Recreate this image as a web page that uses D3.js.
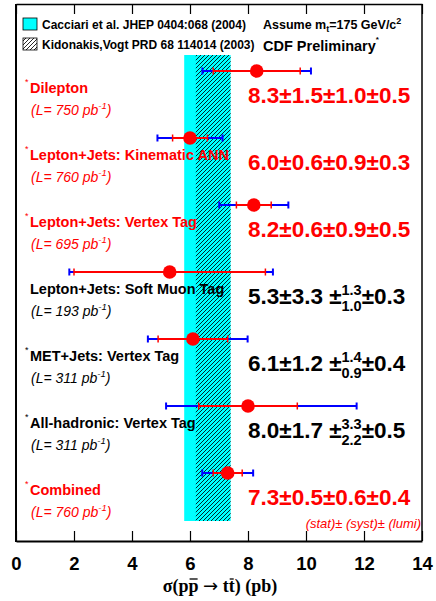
<!DOCTYPE html>
<html>
<head>
<meta charset="utf-8">
<script src="https://cdn.jsdelivr.net/npm/d3@7"></script>
<style>
	body { margin: 0; background: #fff; }
	svg { display: block; }
	text { font-family: "Liberation Sans", Arial, sans-serif; }
</style>
</head>
<body>
<div id="graphZone"></div>
<script>
/************************************ Data *******************************/
var channels = ["Dilepton", "Lepton+Jets: Kinematic ANN", "Lepton+Jets: Vertex Tag",
	"Lepton+Jets: Soft Muon Tag", "MET+Jets: Vertex Tag", "All-hadronic: Vertex Tag", "Combined"];
var lumis = [750, 760, 695, 193, 311, 311, 760];
var xsec = [8.3, 6.0, 8.2, 5.3, 6.1, 8.0, 7.3];
var stat = [1.5, 0.6, 0.6, 3.3, 1.2, 1.7, 0.5];
var systUp = [1.0, 0.9, 0.9, 1.3, 1.4, 3.3, 0.6];
var systDn = [1.0, 0.9, 0.9, 1.0, 0.9, 2.2, 0.6];
var lumiErr = [0.5, 0.3, 0.5, 0.3, 0.4, 0.5, 0.4];
var starred = [true, true, true, false, true, true, true];
var redRow = [true, true, true, false, false, false, true];

var theoryNames = ["Cacciari et al. JHEP 0404:068 (2004)", "Kidonakis,Vogt PRD 68 114014 (2003)"];
var theoryLow = [5.8, 6.2];
var theoryHigh = [7.4, 7.4];

var majorTicks = [0, 2, 4, 6, 8, 10, 12, 14];
var minorTicks = d3.range(0, 14.01, 0.5);

/************************************ Setup *******************************/
var W = 436, H = 601;
var RED = "#ff0000", BLUE = "#0000ff";

var svg = d3.select("#graphZone").append("svg")
	.attr("width", W).attr("height", H);
svg.append("rect").attr("width", W).attr("height", H).attr("fill", "#fff");

var defs = svg.append("defs");
var pat = defs.append("pattern").attr("id", "hatch")
	.attr("patternUnits", "userSpaceOnUse").attr("width", 4).attr("height", 4);
pat.append("path").attr("d", "M-1,1 l2,-2 M0,4 l4,-4 M3,5 l2,-2")
	.attr("stroke", "#000").attr("stroke-width", 0.85);

var x = d3.scaleLinear().domain([0, 14]).range([16, 422]);
var y = d3.scalePoint().domain(channels).range([71, 473]);

var frameTop = 4, frameBottom = 541;

/************************************ Theory bands *******************************/
svg.append("rect")
	.attr("x", x(theoryLow[0])).attr("width", x(theoryHigh[0]) - x(theoryLow[0]))
	.attr("y", 55).attr("height", 466).attr("fill", "#00ffff");
svg.append("rect")
	.attr("x", x(theoryLow[1])).attr("width", x(theoryHigh[1]) - x(theoryLow[1]))
	.attr("y", 55).attr("height", 466).attr("fill", "url(#hatch)");

/************************************ Axes *******************************/
var gb = svg.append("g").attr("transform", "translate(0," + frameBottom + ")");
gb.call(d3.axisBottom(x).tickValues(minorTicks).tickSizeInner(-5).tickSizeOuter(0).tickFormat(""));
gb.call(d3.axisBottom(x).tickValues(majorTicks).tickSizeInner(-10).tickSizeOuter(0)
	.tickFormat(d3.format("d")).tickPadding(16));
gb.selectAll("path.domain").attr("stroke", "#000").attr("stroke-width", 2);
gb.selectAll(".tick line").attr("stroke", "#000").attr("stroke-width", 1.2);
gb.selectAll(".tick text")
	.attr("font-family", "Liberation Sans, Arial, sans-serif")
	.attr("font-weight", "bold").attr("font-size", 18.5).attr("fill", "#000");

var gt = svg.append("g").attr("transform", "translate(0," + frameTop + ")");
gt.call(d3.axisTop(x).tickValues(minorTicks).tickSizeInner(-5).tickSizeOuter(0).tickFormat(""));
gt.call(d3.axisTop(x).tickValues(majorTicks).tickSizeInner(-10).tickSizeOuter(0).tickFormat(""));
gt.selectAll("path.domain").attr("stroke", "#000").attr("stroke-width", 1.5);
gt.selectAll(".tick line").attr("stroke", "#000").attr("stroke-width", 1.2);

// side lines of the frame
svg.append("line").attr("x1", 16).attr("x2", 16).attr("y1", frameTop).attr("y2", frameBottom + 1)
	.attr("stroke", "#000").attr("stroke-width", 2);
svg.append("line").attr("x1", 422).attr("x2", 422).attr("y1", frameTop).attr("y2", frameBottom)
	.attr("stroke", "#000").attr("stroke-width", 1.5);

// axis title
var title = svg.append("text").attr("x", 220).attr("y", 592).attr("text-anchor", "middle")
	.style("font-family", "Liberation Serif, Times New Roman, serif")
	.attr("font-weight", "bold").attr("font-size", 18).attr("fill", "#000");
title.append("tspan").text("\u03c3(pp ");
title.append("tspan").style("font-family", "DejaVu Sans, sans-serif").attr("font-weight", "normal")
	.text("\u2192");
title.append("tspan").text(" tt) (pb)");
(function() {
	var node = title.node();
	[3, 8].forEach(function(i) {
		var b = node.getExtentOfChar(i);
		svg.append("line").attr("x1", b.x + 1).attr("x2", b.x + b.width - 1)
			.attr("y1", b.y + 3).attr("y2", b.y + 3)
			.attr("stroke", "#000").attr("stroke-width", 1.3);
	});
})();

/************************************ Legend / header *******************************/
var legendY = [18, 38];
svg.append("rect").attr("x", 23).attr("y", legendY[0]).attr("width", 14).attr("height", 12)
	.attr("fill", "#00ffff").attr("stroke", "#000").attr("stroke-width", 0.8);
svg.append("rect").attr("x", 23).attr("y", legendY[1]).attr("width", 14).attr("height", 12)
	.attr("fill", "#fff").attr("stroke", "#000").attr("stroke-width", 0.8);
svg.append("rect").attr("x", 23).attr("y", legendY[1]).attr("width", 14).attr("height", 12)
	.attr("fill", "url(#hatch)");
theoryNames.forEach(function(n, i) {
	svg.append("text").attr("x", 42).attr("y", legendY[i] + 11)
		.attr("font-weight", "bold").attr("font-size", 12).attr("fill", "#000").text(n);
});

var assume = svg.append("text").attr("x", 263).attr("y", 29)
	.attr("font-weight", "bold").attr("font-size", 12.5).attr("fill", "#000");
assume.append("tspan").text("Assume m");
assume.append("tspan").attr("dy", 3).attr("font-size", 9).text("t");
assume.append("tspan").attr("dy", -3).text("=175 GeV/c");
assume.append("tspan").attr("dy", -5).attr("font-size", 9).text("2");

var cdf = svg.append("text").attr("x", 263).attr("y", 51)
	.attr("font-weight", "bold").attr("font-size", 14.5).attr("fill", "#000");
cdf.append("tspan").text("CDF Preliminary");
cdf.append("tspan").attr("dy", -9).attr("font-size", 8).text("*");

/************************************ Measurements *******************************/
var rows = svg.append("g").selectAll("g").data(channels).join("g")
	.attr("transform", function(d) { return "translate(0," + y(d) + ")"; });

function totUp(i) { return Math.sqrt(stat[i] * stat[i] + systUp[i] * systUp[i] + lumiErr[i] * lumiErr[i]); }
function totDn(i) { return Math.sqrt(stat[i] * stat[i] + systDn[i] * systDn[i] + lumiErr[i] * lumiErr[i]); }

rows.each(function(d, i) {
	var g = d3.select(this);
	var col = redRow[i] ? RED : "#000";

	// total error (blue)
	var lo = x(xsec[i] - totDn(i)), hi = x(xsec[i] + totUp(i));
	g.append("line").attr("x1", lo).attr("x2", hi).attr("stroke", BLUE).attr("stroke-width", 2);
	[lo, hi].forEach(function(v) {
		g.append("line").attr("x1", v).attr("x2", v).attr("y1", -3.5).attr("y2", 3.5)
			.attr("stroke", BLUE).attr("stroke-width", 2);
	});
	// stat error (red)
	var slo = x(xsec[i] - stat[i]), shi = x(xsec[i] + stat[i]);
	g.append("line").attr("x1", slo).attr("x2", shi).attr("stroke", RED).attr("stroke-width", 2);
	[slo, shi].forEach(function(v) {
		g.append("line").attr("x1", v).attr("x2", v).attr("y1", -3.5).attr("y2", 3.5)
			.attr("stroke", RED).attr("stroke-width", 1.5);
	});
	g.append("circle").attr("cx", x(xsec[i])).attr("r", 6.8).attr("fill", RED);

	// channel label
	if (starred[i]) {
		g.append("text").attr("x", 25).attr("y", 14).attr("font-size", 9)
			.attr("fill", col).text("*");
	}
	g.append("text").attr("x", 30).attr("y", 22).attr("font-weight", "bold")
		.attr("font-size", 14.5).attr("fill", col).text(d);
	var lt = g.append("text").attr("x", 31).attr("y", 44).attr("font-style", "italic")
		.attr("font-size", 14).attr("fill", col);
	lt.append("tspan").text("(L= " + lumis[i] + " pb");
	lt.append("tspan").attr("dy", -6).attr("font-size", 9.5).text("-1");
	lt.append("tspan").attr("dy", 6).text(")");

	// result
	var f = d3.format(".1f");
	var rx = 248, ry = 32, fs = 22.5;
	if (systUp[i] === systDn[i]) {
		g.append("text").attr("x", rx).attr("y", ry).attr("font-weight", "bold")
			.attr("font-size", fs).attr("fill", col)
			.text(f(xsec[i]) + "\u00b1" + f(stat[i]) + "\u00b1" + f(systUp[i]) + "\u00b1" + f(lumiErr[i]));
	} else {
		var t1 = g.append("text").attr("x", rx).attr("y", ry).attr("font-weight", "bold")
			.attr("font-size", fs).attr("fill", col)
			.text(f(xsec[i]) + "\u00b1" + f(stat[i]) + " \u00b1");
		var w1 = t1.node().getComputedTextLength();
		var sup = g.append("text").attr("x", rx + w1).attr("y", ry - 9).attr("font-weight", "bold")
			.attr("font-size", 14.5).attr("fill", col).text(f(systUp[i]));
		var sub = g.append("text").attr("x", rx + w1).attr("y", ry + 7).attr("font-weight", "bold")
			.attr("font-size", 14.5).attr("fill", col).text(f(systDn[i]));
		var w2 = Math.max(sup.node().getComputedTextLength(), sub.node().getComputedTextLength());
		g.append("text").attr("x", rx + w1 + w2).attr("y", ry).attr("font-weight", "bold")
			.attr("font-size", fs).attr("fill", col)
			.text("\u00b1" + f(lumiErr[i]));
	}
});

// note under the combined result
svg.append("text").attr("x", 421).attr("y", 528).attr("text-anchor", "end")
	.attr("font-style", "italic").attr("font-size", 13).attr("fill", RED)
	.text("(stat)\u00b1 (syst)\u00b1 (lumi)");
</script>
</body>
</html>
